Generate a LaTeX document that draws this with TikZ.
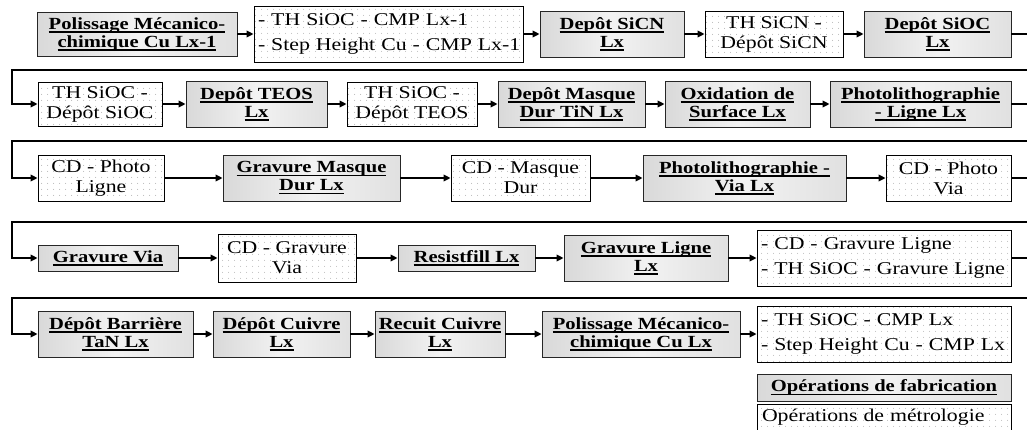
\documentclass[tikz,border=0pt]{standalone}
\usepackage{fontspec}
\setmainfont{Liberation Serif}[FakeStretch=1.21]
\usetikzlibrary{arrows.meta,patterns.meta}

\tikzdeclarepattern{
  name=metrodots,
  type=uncolored,
  bounding box={(0pt,0pt) and (5.5pt,5.5pt)},
  tile size={(5.5pt,5.5pt)},
  code={\fill (2.75pt,2.75pt) circle (0.55pt);}
}

\newcommand\ulx[1]{\setbox0\hbox{#1}\rlap{\rule[-3.6pt]{\wd0}{1.5pt}}\box0}

\tikzset{
  fab/.style={draw=black!85, line width=0.8pt, left color=gray!30, right color=gray!24, middle color=gray!10,
    font=\fontsize{17}{18}\selectfont\bfseries, align=center, inner sep=0pt},
  metro/.style={draw=black, line width=0.8pt, pattern=metrodots, pattern color=gray!55,
    font=\fontsize{18}{20}\selectfont, align=center, inner sep=0pt},
  metroleft/.style={metro, align=left, inner xsep=4pt, text width=#1},
  wh/.style 2 args={minimum width=#1pt, minimum height=#2pt},
  flow/.style={line width=2pt, -{Triangle[length=7pt,width=6.5pt]}},
  back/.style={line width=2.6pt, -{Triangle[length=7pt,width=6.5pt]}},
}

\begin{document}
\begin{tikzpicture}[x=1pt,y=-1pt]
\useasboundingbox (0,0) rectangle (1027,429);
\clip (0,0) rectangle (1027,429);

% Row 1
\node[fab, wh={200}{44}] (f1) at (137,34) {\ulx{Polissage Mécanico-}\\\ulx{chimique Cu Lx-1}};
\node[metroleft=261pt, wh={269}{56}] (m1) at (388.5,34) {\mbox{- TH SiOC - CMP Lx-1}\\[5pt]\mbox{- Step Height Cu - CMP Lx-1}};
\node[fab, wh={144}{46}] (f2) at (612,34) {\ulx{Depôt SiCN}\\\ulx{Lx}};
\node[metro, wh={138}{46}] (m2) at (774,34) {TH SiCN -\\Dépôt SiCN};
\node[fab, wh={147}{46}] (f3) at (937.5,34) {\ulx{Depôt SiOC}\\\ulx{Lx}};

% Row 2
\node[metro, wh={124}{44}] (m3) at (100,104) {TH SiOC -\\Dépôt SiOC};
\node[fab, wh={141}{46}] (f4) at (256.5,104) {\ulx{Depôt TEOS}\\\ulx{Lx}};
\node[metro, wh={130}{44}] (m4) at (412,104) {TH SiOC -\\Dépôt TEOS};
\node[fab, wh={147}{46}] (f5) at (571.5,104) {\ulx{Depôt Masque}\\\ulx{Dur TiN Lx}};
\node[fab, wh={145}{46}] (f6) at (737.5,104) {\ulx{Oxidation de}\\\ulx{Surface Lx}};
\node[fab, wh={181}{46}] (f7) at (920.5,104) {\ulx{Photolithographie}\\\ulx{- Ligne Lx}};

% Row 3
\node[metro, wh={126}{46}] (m5) at (101,178) {CD - Photo\\Ligne};
\node[fab, wh={177}{46}] (f8) at (311.5,178) {\ulx{Gravure Masque}\\\ulx{Dur Lx}};
\node[metro, wh={139}{46}] (m6) at (520.5,178) {CD - Masque\\Dur};
\node[fab, wh={203}{46}] (f9) at (744.5,178) {\ulx{Photolithographie -}\\\ulx{Via Lx}};
\node[metro, wh={125}{46}] (m7) at (948.5,178) {CD - Photo\\Via};

% Row 4
\node[fab, wh={140}{26}] (f10) at (108,258) {\ulx{Gravure Via}};
\node[metro, wh={138}{48}] (m8) at (287,258) {CD - Gravure\\Via};
\node[fab, wh={137}{26}] (f11) at (466.5,258) {\ulx{Resistfill Lx}};
\node[fab, wh={164}{46}] (f12) at (646,258) {\ulx{Gravure Ligne}\\\ulx{Lx}};
\node[metroleft=246pt, wh={254}{56}] (m9) at (884,258) {\mbox{- CD - Gravure Ligne}\\[5pt]\mbox{- TH SiOC - Gravure Ligne}};

% Row 5
\node[fab, wh={155}{46}] (f13) at (115.5,334) {\ulx{Dépôt Barrière}\\\ulx{TaN Lx}};
\node[fab, wh={137}{46}] (f14) at (281.5,334) {\ulx{Dépôt Cuivre}\\\ulx{Lx}};
\node[fab, wh={130}{46}] (f15) at (440,334) {\ulx{Recuit Cuivre}\\\ulx{Lx}};
\node[fab, wh={198}{46}] (f16) at (641,334) {\ulx{Polissage Mécanico-}\\\ulx{chimique Cu Lx}};
\node[metroleft=246pt, wh={254}{56}] (m10) at (884,334) {\mbox{- TH SiOC - CMP Lx}\\[5pt]\mbox{- Step Height Cu - CMP Lx}};

% Legend
\node[fab, wh={254}{27}] (lf) at (884,387.5) {\ulx{Opérations de fabrication}};
\node[metroleft=244pt, inner xsep=5pt, wh={254}{27}] (lm) at (884,417.5) {\mbox{Opérations de métrologie}};

% Flow arrows
\draw[flow] (f1) -- (m1);
\draw[flow] (m1) -- (f2);
\draw[flow] (f2) -- (m2);
\draw[flow] (m2) -- (f3);

\draw[flow] (m3) -- (f4);
\draw[flow] (f4) -- (m4);
\draw[flow] (m4) -- (f5);
\draw[flow] (f5) -- (f6);
\draw[flow] (f6) -- (f7);

\draw[flow] (m5) -- (f8);
\draw[flow] (f8) -- (m6);
\draw[flow] (m6) -- (f9);
\draw[flow] (f9) -- (m7);

\draw[flow] (f10) -- (m8);
\draw[flow] (m8) -- (f11);
\draw[flow] (f11) -- (f12);
\draw[flow] (f12) -- (m9);

\draw[flow] (f13) -- (f14);
\draw[flow] (f14) -- (f15);
\draw[flow] (f15) -- (f16);
\draw[flow] (f16) -- (m10);

% Return connectors
\coordinate (e1) at (1034,70);  \coordinate (w1) at (12,70);
\coordinate (e2) at (1034,141); \coordinate (w2) at (12,141);
\coordinate (e3) at (1034,222); \coordinate (w3) at (12,222);
\coordinate (e4) at (1034,298); \coordinate (w4) at (12,298);
\draw[back] (f3.east) -| (e1) -- (w1) |- (m3.west);
\draw[back] (f7.east) -| (e2) -- (w2) |- (m5.west);
\draw[back] (m7.east) -| (e3) -- (w3) |- (f10.west);
\draw[back] (m9.east) -| (e4) -- (w4) |- (f13.west);
\end{tikzpicture}
\end{document}
